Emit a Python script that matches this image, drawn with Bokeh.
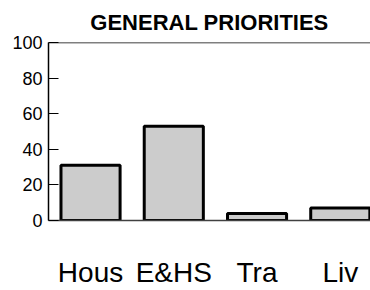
from bokeh.plotting import figure
from bokeh.models import Range1d, FixedTicker, Span, ColumnDataSource
from bokeh.embed import file_html
from bokeh.resources import INLINE

categories = ["Hous", "E&HS", "Tra", "Liv"]
values = [31, 53, 4, 7]
y_ticks = [0, 20, 40, 60, 80, 100]

positions = list(range(len(categories)))
src = ColumnDataSource(dict(x=positions, top=values, cat=categories))

p = figure(width=370, height=290, output_backend="svg", toolbar_location=None,
           x_range=Range1d(-0.505, 3.363), y_range=Range1d(0, 100),
           min_border_left=48, min_border_right=0, min_border_top=42,
           min_border_bottom=69)
p.title.text = "GENERAL PRIORITIES"
p.title.text_font = "Liberation Sans"
p.title.text_font_size = "22px"
p.title.text_font_style = "bold"
p.title.text_color = "black"
p.title.align = "center"
p.title.standoff = 15

p.vbar(x="x", top="top", bottom=0, width=0.71, source=src,
       fill_color="#cccccc", line_color="black", line_width=3)

p.xgrid.visible = False
p.ygrid.visible = False
p.outline_line_color = None
p.background_fill_color = "white"
p.border_fill_color = "white"

p.add_layout(Span(location=100, dimension="width", line_color="black", line_width=1.5))

xa = p.xaxis[0]
xa.ticker = FixedTicker(ticks=positions)
xa.major_label_overrides = {i: c for i, c in zip(positions, categories)}
xa.major_label_text_font = "Liberation Sans"
xa.major_label_text_font_size = "28px"
xa.major_label_text_color = "black"
xa.major_label_standoff = 30
xa.major_tick_line_color = None
xa.minor_tick_line_color = None
xa.axis_line_color = "#404040"
xa.axis_line_width = 1.5

ya = p.yaxis[0]
ya.ticker = FixedTicker(ticks=y_ticks)
ya.major_label_text_font = "Liberation Sans"
ya.major_label_text_font_size = "18px"
ya.major_label_text_color = "black"
ya.major_label_standoff = 6
ya.major_tick_in = 10
ya.major_tick_out = 0
ya.major_tick_line_color = "black"
ya.minor_tick_line_color = None
ya.axis_line_color = "black"
ya.axis_line_width = 1.5

open("out.html", "w").write(file_html(p, INLINE))
